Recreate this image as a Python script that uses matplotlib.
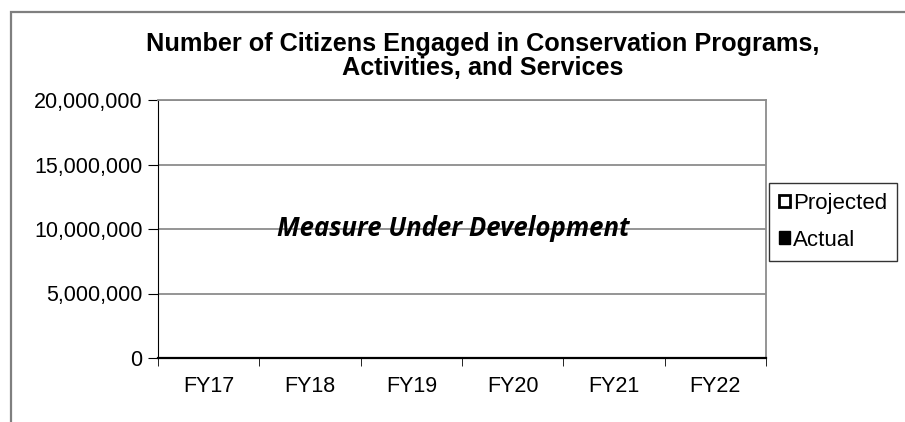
import matplotlib
matplotlib.use("Agg")
import matplotlib.pyplot as plt
from matplotlib.patches import Rectangle, Patch
from matplotlib.ticker import FuncFormatter
import numpy as np

categories = ["FY17", "FY18", "FY19", "FY20", "FY21", "FY22"]
projected = [0, 0, 0, 0, 0, 0]
actual = [0, 0, 0, 0, 0, 0]
y_ticks = [0, 5000000, 10000000, 15000000, 20000000]
title = "Number of Citizens Engaged in Conservation Programs,\nActivities, and Services"
note = "Measure Under Development"

plt.rcParams['font.family'] = ['Liberation Sans', 'DejaVu Sans']

fig = plt.figure(figsize=(9.05, 4.22), dpi=100)
# outer chart border (extends beyond image right/bottom)
fig.patches.append(Rectangle((11/905, -0.1), 1.2, 1 - 12/422 + 0.1, transform=fig.transFigure,
                             fill=False, edgecolor='#7f7f7f', linewidth=1.6))

ax = fig.add_axes([158/905, 1 - 358/422, (766-158)/905, (358-100)/422])
x = np.arange(len(categories))
w = 0.35
ax.bar(x - w/2, projected, w, color='white', edgecolor='black', label='Projected')
ax.bar(x + w/2, actual, w, color='black', edgecolor='black', label='Actual')

ax.set_xlim(-0.5, len(categories) - 0.5)
ax.set_ylim(0, 20000000)
ax.set_yticks(y_ticks)
ax.yaxis.set_major_formatter(FuncFormatter(lambda v, p: f"{int(v):,}"))
ax.set_xticks(x)
ax.set_xticklabels(categories)
ax.set_xticks(np.arange(len(categories) + 1) - 0.5, minor=True)
ax.tick_params(axis='x', which='major', length=0, pad=13, labelsize=15.5)
ax.tick_params(axis='x', which='minor', length=6, direction='out', color='black')
ax.tick_params(axis='y', length=7, direction='out', labelsize=15.5, pad=4)
ax.grid(axis='y', color='#8c8c8c', linewidth=1.3)
ax.set_axisbelow(True)
for s in ['top', 'right']:
    ax.spines[s].set_color('#8c8c8c')
    ax.spines[s].set_linewidth(1.3)
ax.spines['left'].set_color('black')
ax.spines['bottom'].set_color('black')
ax.spines['bottom'].set_linewidth(1.6)

fig.text(483/905, 1 - 56/422, title, ha='center', va='center', fontsize=18.2,
         fontweight='bold', linespacing=1.0)

ax.text(453/905, 1 - 229/422, note, transform=fig.transFigure, ha='center', va='center',
        fontsize=18.5, fontweight='bold', fontstyle='italic', family=['Open Sans', 'DejaVu Sans'])

handles = [Patch(facecolor='white', edgecolor='black', linewidth=2.0, label='Projected'),
           Patch(facecolor='black', edgecolor='black', label='Actual')]
leg = fig.legend(handles=handles, loc='upper left', bbox_to_anchor=(769/905, 1 - 183/422),
                 frameon=True, fancybox=False, edgecolor='black', fontsize=16,
                 handlelength=0.5, handleheight=0.5, handletextpad=0.12,
                 labelspacing=0.7, borderpad=0.45, borderaxespad=0)
leg.get_frame().set_linewidth(1.0)

fig.savefig("out.png", dpi=100)
